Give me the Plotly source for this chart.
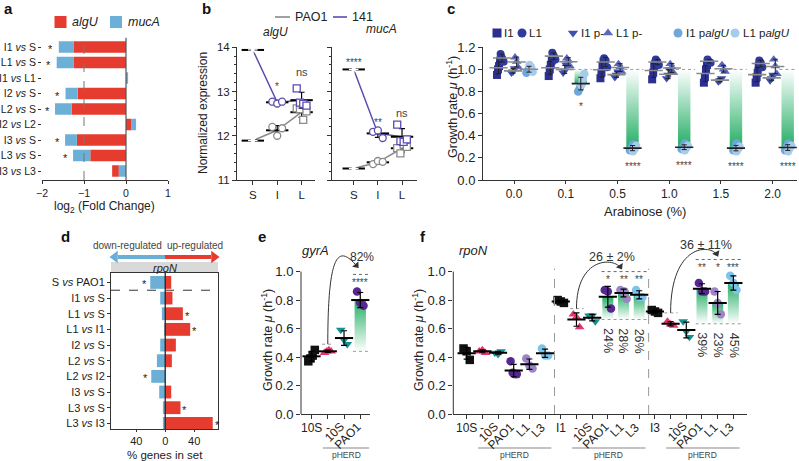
import numpy as np
import plotly.graph_objects as go

# ======================= DATA =======================
# panel a : log2 fold change
a_rows = ["I1 <i>vs</i> S", "L1 <i>vs</i> S", "I1 <i>vs</i> L1", "I2 <i>vs</i> S", "L2 <i>vs</i> S",
          "I2 <i>vs</i> L2", "I3 <i>vs</i> S", "L3 <i>vs</i> S", "I3 <i>vs</i> L3"]
a_algU = [-1.24, -1.24, 0.00, -1.15, -1.29, 0.12, -1.17, -0.85, -0.16]
a_mucA = [-0.36, -0.41, 0.05, -0.29, -0.40, 0.12, -0.28, -0.41, -0.17]
a_inner = ["algU"] * 8 + ["mucA"]          # which gene is stacked next to zero
a_sig = ["*", "*", "", "*", "*", "", "*", "*", ""]

# panel b : normalized expression
b_groups = ["S", "I", "L"]
b_algU_PAO1 = [[11.89], [12.20, 12.00, 12.17], [12.62, 12.60, 12.36, 12.55]]
b_algU_141 = [[13.94], [12.77, 12.73, 12.77], [13.07, 12.75, 12.72, 12.68]]
b_mucA_PAO1 = [[11.26], [11.36, 11.43, 11.41], [11.72, 11.60, 11.80, 11.75]]
b_mucA_141 = [[13.50], [12.09, 12.12, 11.95], [12.25, 11.88, 11.86, 11.92]]
b_sig_algU = ["****", "*", "ns"]
b_sig_mucA = ["****", "**", "ns"]

# panel c : growth rate vs arabinose
c_conc = ["0.0", "0.1", "0.5", "1.0", "1.5", "2.0"]
c_names = ["I1", "L1", "I1 p-", "L1 p-", "I1 p<i>algU</i>", "L1 p<i>algU</i>"]
c_I1 = [[0.95, 1.00, 1.03, 1.08], [0.94, 1.00, 1.04, 1.08], [0.92, 0.97, 1.03, 1.07],
        [0.91, 0.97, 1.03, 1.05], [0.88, 0.93, 1.00, 1.04], [0.88, 0.93, 0.97, 1.03]]
c_L1 = [[1.14, 1.10, 1.07], [1.15, 1.12, 1.09], [1.10, 1.08, 1.02],
        [1.09, 1.07, 1.04], [1.09, 1.07, 1.06], [1.08, 1.06, 1.02]]
c_I1p = [[0.97, 0.98, 1.01], [0.97, 0.99, 1.04], [0.93, 0.95, 0.98],
         [0.92, 0.95, 1.00], [0.89, 0.90, 0.92], [0.90, 0.92, 0.95]]
c_L1p = [[1.11, 1.07, 1.02], [1.10, 1.08, 1.03], [1.05, 1.02, 0.98],
         [1.05, 1.02, 0.97], [1.04, 1.00, 0.98], [1.09, 1.03, 0.96]]
c_I1a = [[0.97, 0.99, 1.01], [0.80, 0.83, 0.87], [0.27, 0.29, 0.32],
         [0.28, 0.30, 0.33], [0.27, 0.29, 0.33], [0.27, 0.30, 0.33]]
c_L1a = [[1.04, 1.02, 0.98], [0.86, 0.91, 0.96], [0.26, 0.28, 0.31],
         [0.27, 0.29, 0.31], [0.26, 0.28, 0.30], [0.26, 0.29, 0.31]]
c_ref = 1.0
c_sig = ["", "*", "****", "****", "****", "****"]

# panel d : % genes in set (rpoN)
d_rows = ["S <i>vs</i> PAO1", "I1 <i>vs</i> S", "L1 <i>vs</i> S", "L1 <i>vs</i> I1", "I2 <i>vs</i> S",
          "L2 <i>vs</i> S", "L2 <i>vs</i> I2", "I3 <i>vs</i> S", "L3 <i>vs</i> S", "L3 <i>vs</i> I3"]
d_down = [20.7, 6.9, 4.6, 1.4, 6.9, 11.5, 19.3, 8.3, 3.2, 3.2]
d_up = [8.3, 10.0, 24.4, 34.5, 14.7, 9.2, 0.0, 8.3, 21.1, 65.7]
d_sig = ["down", "", "up", "up", "", "", "down", "", "up", "up"]

# panel e : gyrA growth rate
e_labels = ["10S", "-", "10S", "PAO1"]
e_vals = [[0.37, 0.39, 0.41, 0.45], [0.43, 0.44, 0.45, 0.44], [0.59, 0.52, 0.49], [0.86, 0.78, 0.76]]
e_dot_minus = 0.49
e_dot_top = 0.98
e_sig = "****"
e_pct = "82%"

# panel f : rpoN growth rate
f_labels = ["10S", "-", "10S", "PAO1", "L1", "L3",
            "I1", "-", "10S", "PAO1", "L1", "L3",
            "I3", "-", "10S", "PAO1", "L1", "L3"]
f_vals = [[0.46, 0.44, 0.38], [0.44, 0.45, 0.43], [0.43, 0.42, 0.44], [0.37, 0.29, 0.28, 0.28],
          [0.39, 0.34, 0.32], [0.46, 0.41, 0.41],
          [0.80, 0.79, 0.78], [0.70, 0.68, 0.61], [0.69, 0.69, 0.65], [0.87, 0.86, 0.74],
          [0.87, 0.86, 0.86, 0.81], [0.87, 0.82, 0.82],
          [0.73, 0.72, 0.71], [0.65, 0.63, 0.62], [0.65, 0.58, 0.54], [0.92, 0.86, 0.86],
          [0.86, 0.78, 0.70], [0.97, 0.92, 0.87]]
f_dot_minus = [0.74, 0.71]
f_dot_top = [1.00, 1.085]
f_sig = [["*", "**", "**"], ["**", "*", "***"]]
f_pct = [["24%", "28%", "26%"], ["39%", "23%", "45%"]]
f_summary = ["26 ± 2%", "36 ± 11%"]

# ======================= STYLE / LAYOUT HELPERS =======================
W, H = 799, 461
FONT = "Liberation Sans, Arial, sans-serif"
TXT = "#222222"
RED = "#e63c2f"
BLUE = "#6cb0d8"
PURPLE_B = "#5a4cb0"
GRAY_B = "#8a8a8a"
GREEN = "rgb(34,174,100)"
C_COLORS = ["#2c2f8e", "#2f3b98", "#3e4fae", "#5a68bd", "#6ea7da", "#a9cbea"]
C_SYMBOLS = ["square", "circle", "triangle-down", "triangle-up", "circle", "circle"]
C_OFF = [-0.30, -0.23, -0.02, 0.05, 0.27, 0.33]
G_COLORS = ["#111111", "#e8336e", "#12918f", "#56288f", "#9d84c6", "#7cc4ea"]
G_SYMBOLS = ["square", "triangle-up", "triangle-down", "circle", "circle", "circle"]


def PX(x):
    return x / W


def PY(y):
    return 1 - y / H


def dom_x(a, b):
    return [a / W, b / W]


def dom_y(top, bottom):
    return [1 - bottom / H, 1 - top / H]


def offsets(n, spread):
    return np.linspace(-spread, spread, n) if n > 1 else np.zeros(1)


def sd(v):
    return float(np.std(v, ddof=1)) if len(v) > 1 else 0.0


fig = go.Figure()
ann = []
shapes = []


def text(t, x, y, size=11, xref="paper", yref="paper", xanchor="center", yanchor="middle",
         angle=0, color=TXT, yshift=0):
    ann.append(dict(text=t, x=x, y=y, xref=xref, yref=yref, xanchor=xanchor, yanchor=yanchor,
                    textangle=angle, showarrow=False, yshift=yshift,
                    font=dict(size=size, color=color, family=FONT)))


def grad_bar(xc, w, y_base, y_val, xa, ya):
    lo, hi = min(y_base, y_val), max(y_base, y_val)
    if y_val < y_base:
        cs = [[0, GREEN], [1, "rgb(255,255,255)"]]
    else:
        cs = [[0, "rgb(255,255,255)"], [1, GREEN]]
    fig.add_trace(go.Scatter(x=[xc - w / 2, xc + w / 2, xc + w / 2, xc - w / 2, xc - w / 2],
                             y=[lo, lo, hi, hi, lo], fill="toself", mode="none",
                             fillgradient=dict(type="vertical", colorscale=cs),
                             xaxis=xa, yaxis=ya, hoverinfo="skip"))


def hline(x0, x1, y, xref, yref, dash="dot", color="#999999", width=1):
    shapes.append(dict(type="line", x0=x0, x1=x1, y0=y, y1=y, xref=xref, yref=yref,
                       line=dict(color=color, width=width, dash=dash)))


# ======================= PANEL a =======================
ya = list(range(len(a_rows)))
base_alg = [m if inn == "mucA" else 0 for m, inn in zip(a_mucA, a_inner)]
base_muc = [0 if inn == "mucA" else g for g, inn in zip(a_algU, a_inner)]
fig.add_trace(go.Bar(x=a_algU, y=ya, base=base_alg, orientation="h", width=0.75,
                     marker=dict(color=RED, line=dict(width=0)), xaxis="x", yaxis="y"))
fig.add_trace(go.Bar(x=a_mucA, y=ya, base=base_muc, orientation="h", width=0.75,
                     marker=dict(color=BLUE, line=dict(width=0)), xaxis="x", yaxis="y"))
shapes.append(dict(type="line", x0=-1, x1=-1, y0=0, y1=1, xref="x", yref="y domain",
                   line=dict(color="#777777", width=1, dash="dash")))
shapes.append(dict(type="line", x0=0, x1=0, y0=0, y1=1, xref="x", yref="y domain",
                   line=dict(color="#555555", width=1.2)))
for i, s in enumerate(a_sig):
    if s:
        tot = min(a_algU[i] + a_mucA[i], a_algU[i], 0)
        text(s, tot - 0.19, i, size=11, xref="x", yref="y", yshift=-2)

# ======================= PANEL b =======================
b_sym = ["asterisk-open", "circle", "square"]


def add_b(data, color, xa, yax):
    means = [float(np.mean(v)) for v in data]
    sds = [sd(v) for v in data]
    fig.add_trace(go.Scatter(x=[0, 1, 2], y=means, mode="lines", line=dict(color=color, width=1.5),
                             xaxis=xa, yaxis=yax, cliponaxis=False))
    fig.add_trace(go.Scatter(x=[0, 1, 2], y=means, mode="markers", xaxis=xa, yaxis=yax, cliponaxis=False,
                             marker=dict(symbol="line-ew", size=16, color="black",
                                         line=dict(width=2, color="black")),
                             error_y=dict(type="data", array=sds, color="black", thickness=1.2, width=3)))
    for gi, vals in enumerate(data):
        xs = gi + offsets(len(vals), 0.2)
        fig.add_trace(go.Scatter(x=xs, y=vals, mode="markers", xaxis=xa, yaxis=yax, cliponaxis=False,
                                 marker=dict(symbol=b_sym[gi], size=7 if gi else 8, color="white",
                                             line=dict(color=color, width=1.3))))


add_b(b_algU_PAO1, GRAY_B, "x2", "y2")
add_b(b_algU_141, PURPLE_B, "x2", "y2")
add_b(b_mucA_PAO1, GRAY_B, "x3", "y3")
add_b(b_mucA_141, PURPLE_B, "x3", "y3")
for gi, (sa, sm) in enumerate(zip(b_sig_algU, b_sig_mucA)):
    ya_pos = [14.14, 13.17, 13.44][gi]
    ym_pos = [13.71, 12.35, 12.51][gi]
    text(sa, gi, ya_pos, size=10 if sa != "ns" else 11, xref="x2", yref="y2", color="#444",
         yshift=-2 if sa != "ns" else 0)
    text(sm, gi, ym_pos, size=10 if sm != "ns" else 11, xref="x3", yref="y3", color="#444",
         yshift=-2 if sm != "ns" else 0)

# ======================= PANEL c =======================
c_series = [c_I1, c_L1, c_I1p, c_L1p, c_I1a, c_L1a]
n_g = len(c_conc)
pal_mean = [float(np.mean(c_I1a[g] + c_L1a[g])) for g in range(n_g)]
pal_sd = [sd(c_I1a[g] + c_L1a[g]) for g in range(n_g)]
pal_off = 0.29
for g in range(1, n_g):
    grad_bar(g + pal_off, 0.24, c_ref, pal_mean[g], "x4", "y4")
    hline(g + 0.13, g + 0.5, c_ref, "x4", "y4")
for si, ser in enumerate(c_series):
    xs, ys = [], []
    for g, vals in enumerate(ser):
        xs += list(g + C_OFF[si] + offsets(len(vals), 0.03))
        ys += vals
    fig.add_trace(go.Scatter(x=xs, y=ys, mode="markers", xaxis="x4", yaxis="y4", cliponaxis=False,
                             marker=dict(symbol=C_SYMBOLS[si], size=8 if si < 2 else 8.5,
                                         color=C_COLORS[si], line=dict(width=0))))
for si in range(4):
    ser = c_series[si]
    fig.add_trace(go.Scatter(x=[g + C_OFF[si] for g in range(n_g)],
                             y=[float(np.mean(v)) for v in ser], mode="markers",
                             xaxis="x4", yaxis="y4",
                             marker=dict(symbol="line-ew", size=13, color="#8a8a8a",
                                         line=dict(width=1.6, color="#8a8a8a")),
                             error_y=dict(type="data", array=[sd(v) for v in ser], color="#222",
                                          thickness=1, width=2.5)))
fig.add_trace(go.Scatter(x=[g + pal_off for g in range(n_g)], y=pal_mean, mode="markers",
                         xaxis="x4", yaxis="y4",
                         marker=dict(symbol="line-ew", size=13,
                                     line=dict(width=1.6, color=["#8a8a8a"] + ["#222"] * (n_g - 1))),
                         error_y=dict(type="data", array=pal_sd, color="#222", thickness=1, width=2.5)))
for g, s in enumerate(c_sig):
    if s:
        lo = min(c_I1a[g] + c_L1a[g])
        text(s, g + pal_off, lo - 0.12, size=10, xref="x4", yref="y4", color="#444", yshift=-2)

# ======================= PANEL d =======================
yd = list(range(len(d_rows)))
fig.add_trace(go.Bar(x=[-v for v in d_down], y=yd, orientation="h", width=0.82,
                     marker=dict(color="#6baed6", line=dict(width=0)), xaxis="x5", yaxis="y5"))
fig.add_trace(go.Bar(x=d_up, y=yd, orientation="h", width=0.82,
                     marker=dict(color=RED, line=dict(width=0)), xaxis="x5", yaxis="y5"))
shapes.append(dict(type="line", x0=0, x1=0, y0=0, y1=1, xref="x5", yref="y5 domain",
                   line=dict(color="#222", width=1.3)))
shapes.append(dict(type="line", x0=0, x1=1, y0=0.5, y1=0.5, xref="x5 domain", yref="y5",
                   line=dict(color="#333", width=1, dash="dash")))
for i, s in enumerate(d_sig):
    if s == "down":
        text("*", -d_down[i] - 8, i, size=11, xref="x5", yref="y5", yshift=-2)
    elif s == "up":
        text("*", d_up[i] + 6, i, size=11, xref="x5", yref="y5", yshift=-2)
shapes.append(dict(type="rect", x0=0, x1=1, xref="x5 domain", y0=PY(273), y1=PY(262), yref="paper",
                   fillcolor="#d9d9d9", line=dict(width=0), layer="below"))
text("<i>rpoN</i>", PX(164.5), PY(267.5), size=11)
text("down-regulated", PX(127), PY(245), size=10, color="#444")
text("up-regulated", PX(195), PY(245), size=10, color="#444")


# ======================= PANELS e / f =======================
def add_growth(labels, vals, xa, yax, pos_of, skip_first_group=False):
    n = len(labels)
    means = [float(np.mean(v)) for v in vals]
    for i in range(n):
        p = pos_of(i)
        if p >= 3:
            first = i - p
            if skip_first_group and first == 0:
                continue
            grad_bar(i, 0.7, means[first + 1], means[i], xa, yax)
    for i in range(n):
        p = pos_of(i)
        xs = i + offsets(len(vals[i]), 0.2)
        fig.add_trace(go.Scatter(x=xs, y=vals[i], mode="markers", xaxis=xa, yaxis=yax, cliponaxis=False,
                                 marker=dict(symbol=G_SYMBOLS[p], size=8.5, color=G_COLORS[p],
                                             line=dict(width=0))))
    fig.add_trace(go.Scatter(x=list(range(n)), y=means, mode="markers", xaxis=xa, yaxis=yax,
                             marker=dict(symbol="line-ew", size=13, line=dict(width=2, color="black")),
                             error_y=dict(type="data", array=[sd(v) for v in vals], color="black",
                                          thickness=1.2, width=3)))
    return means


def curve(x0, y0, x2, yc, x3, y3, xa, yax, sx, sy):
    shapes.append(dict(type="path", path=f"M {x0},{y0} C {x0},{yc} {x2},{yc} {x3},{y3}",
                       xref=xa, yref=yax, line=dict(color="#333", width=1)))
    dx = (x3 - x2) * sx
    dy = -(y3 - yc) * sy           # screen coordinates (down positive)
    ang = float(np.degrees(np.arctan2(dx, -dy)))
    nrm = (dx ** 2 + dy ** 2) ** 0.5
    back = 2.5
    fig.add_trace(go.Scatter(x=[x3 - dx / nrm * back / sx], y=[y3 + dy / nrm * back / sy], mode="markers",
                             xaxis=xa, yaxis=yax, cliponaxis=False,
                             marker=dict(symbol="triangle-up", size=7, angle=ang, color="#333",
                                         line=dict(width=0))))


def tick_labels(labels, xa, pos_of):
    for i, lab in enumerate(labels):
        if pos_of(i) >= 2:
            ann.append(dict(text=lab, x=i, y=PY(417), xref=xa, yref="paper", xanchor="right",
                            yanchor="top", xshift=6, textangle=-45, showarrow=False,
                            font=dict(size=12, color=TXT, family=FONT)))
        else:
            text(lab, i, PY(419), size=12, xref=xa, yanchor="top")


def pherd(x0, x1, xa):
    shapes.append(dict(type="line", x0=x0, x1=x1, y0=PY(448), y1=PY(448), xref=xa, yref="paper",
                       line=dict(color="#888", width=1.2)))
    text("pHERD", (x0 + x1) / 2, PY(454.5), size=8.5, xref=xa, color="#444")


sy_f = (414 - 226) / 1.32
# e
e_pos = lambda i: i
e_means = add_growth(e_labels, e_vals, "x6", "y6", e_pos)
e_base = e_means[1]
hline(0.65, 1.4, e_dot_minus, "x6", "y6")
hline(2.55, 3.5, e_dot_top, "x6", "y6", color="#666")
hline(2.55, 3.5, e_base, "x6", "y6")
text(e_sig, 3, e_dot_top - 0.045, size=10, xref="x6", yref="y6", color="#444", yshift=-2)
text(e_pct, 3.1, e_dot_top + 0.125, size=12, xref="x6", yref="y6", color="#333")
sx_e = (370 - 301) / 4.25
curve(1, e_dot_minus, 1.75, 1.18, 2.86, e_dot_top + 0.05, "x6", "y6", sx_e, sy_f)
tick_labels(e_labels, "x6", e_pos)
pherd(0.7, 3.55, "x6")

# f
f_pos = lambda i: i % 6
f_means = add_growth(f_labels, f_vals, "x7", "y7", f_pos, skip_first_group=True)
sx_f = (746.7 - 453.3) / 18.7
for k in range(2):
    first = 6 * (k + 1)
    base = f_means[first + 1]
    hline(first + 0.6, first + 1.45, f_dot_minus[k], "x7", "y7")
    hline(first + 2.6, first + 5.55, f_dot_top[k], "x7", "y7", color="#666")
    hline(first + 2.6, first + 5.55, base, "x7", "y7")
    for j in range(3):
        text(f_sig[k][j], first + 3 + j, f_dot_top[k] - 0.045, size=10, xref="x7", yref="y7",
             color="#444", yshift=-2)
        text(f_pct[k][j], first + 3 + j, base - 0.15, size=12.5, xref="x7", yref="y7",
             angle=90, color="#333")
    text(f_summary[k], first + 3.25, f_dot_top[k] + 0.1, size=12.5, xref="x7", yref="y7", color="#333")
curve(7, f_dot_minus[0], 9.4, 1.105, 9.87, 1.02, "x7", "y7", sx_f, sy_f)
curve(13, f_dot_minus[1], 15.6, 1.2, 16.0, 1.11, "x7", "y7", sx_f, sy_f)
for xs_ in [5.6, 11.6]:
    shapes.append(dict(type="line", x0=xs_, x1=xs_, y0=0, y1=1.02, xref="x7", yref="y7",
                       line=dict(color="#999", width=1, dash="dash")))
tick_labels(f_labels, "x7", f_pos)
for k in range(3):
    pherd(6 * k + 0.72, 6 * k + 5.4, "x7")

for xa, yax in [("x6", "y6"), ("x7", "y7")]:
    shapes.append(dict(type="line", x0=0, x1=0, y0=0, y1=1.0, xref=xa + " domain", yref=yax,
                       line=dict(color="#333", width=1)))


# ======================= LEGENDS / ARROWS (pixel overlay axis) =======================
def glyph(x, y, symbol, color, size):
    fig.add_trace(go.Scatter(x=[x], y=[y], mode="markers", xaxis="x8", yaxis="y8",
                             marker=dict(symbol=symbol, size=size, color=color, line=dict(width=0))))


def seg(x0, x1, y, color, width=1.6):
    fig.add_trace(go.Scatter(x=[x0, x1], y=[y, y], mode="lines", xaxis="x8", yaxis="y8",
                             line=dict(color=color, width=width)))


glyph(60.5, 22, "square", RED, 12)
text("<i>algU</i>", PX(70), PY(22), size=12.5, xanchor="left")
glyph(116, 22, "square", BLUE, 12)
text("<i>mucA</i>", PX(126), PY(22), size=12.5, xanchor="left")
seg(275, 290, 17, GRAY_B)
text("PAO1", PX(293), PY(17), size=12.5, xanchor="left")
seg(333, 347, 17, PURPLE_B)
text("141", PX(350), PY(17), size=12.5, xanchor="left")
leg_c = [(497, 502), (522, 527), (573, 579), (608, 614), (678, 684), (735, 741)]
for si, (gx, tx) in enumerate(leg_c):
    glyph(gx, 33, C_SYMBOLS[si], C_COLORS[si], 9)
    text(c_names[si], PX(tx), PY(33), size=11.5, xanchor="left")
# d: direction arrows
seg(165, 118, 257, "#6baed6", 4)
glyph(115, 257, "triangle-left", "#6baed6", 11)
seg(165, 211, 257, RED, 4)
glyph(214, 257, "triangle-right", RED, 11)

# ======================= TITLES / LABELS =======================
for lt, lx, ly in [("a", 2, 9), ("b", 200, 9), ("c", 445, 9), ("d", 59, 236), ("e", 256, 236), ("f", 418, 236)]:
    text(f"<b>{lt}</b>", PX(lx), PY(ly), size=15, xanchor="left", color="#111")
text("log<sub>2</sub> (Fold Change)", PX(104), PY(207), size=12)
text("Normalized expression", PX(203), PY(113), size=12, angle=-90)
text("<i>algU</i>", PX(275), PY(32), size=12)
text("<i>mucA</i>", PX(381), PY(29), size=12)
text("Growth rate <i>μ</i> (h<sup>-1</sup>)", PX(452), PY(107), size=12.5, angle=-90)
text("Arabinose (%)", PX(645), PY(211), size=13)
text("% genes in set", PX(165), PY(455), size=11.5)
text("<i>gyrA</i>", PX(315), PY(250), size=13)
text("Growth rate <i>μ</i> (h<sup>-1</sup>)", PX(267), PY(340), size=12.5, angle=-90)
text("<i>rpoN</i>", PX(473), PY(250), size=13)
text("Growth rate <i>μ</i> (h<sup>-1</sup>)", PX(418), PY(340), size=12.5, angle=-90)


# ======================= AXES =======================
def ax_style(**kw):
    d = dict(showgrid=False, zeroline=False, showline=True, linecolor="#333", linewidth=1,
             ticks="outside", ticklen=4, tickcolor="#333", fixedrange=True, automargin=False,
             tickfont=dict(size=11, family=FONT, color=TXT))
    d.update(kw)
    return d


tf = lambda s: dict(size=s, family=FONT, color=TXT)
gr_ticks = [0, 0.2, 0.4, 0.6, 0.8, 1.0]
fig.update_layout(
    template="none",
    xaxis=ax_style(domain=dom_x(42, 168), range=[-2, 1], tickvals=[-2, -1, 0, 1], anchor="y",
                   ticklen=3, tickfont=tf(10.5)),
    yaxis=ax_style(domain=dom_y(37.7, 180), range=[8.58, -0.6], tickvals=ya, ticktext=a_rows,
                   showline=False, ticklen=3, anchor="x", tickfont=tf(10.5)),
    xaxis2=ax_style(domain=dom_x(237, 315), range=[-0.65, 2.55], tickvals=[0, 1, 2], ticktext=b_groups,
                    anchor="y2", tickfont=tf(11.5)),
    yaxis2=ax_style(domain=dom_y(47.3, 180), range=[11, 14], tickvals=[11, 12, 13, 14], anchor="x2",
                    minor=dict(dtick=0.2, ticks="outside", ticklen=2, tickcolor="#333"), tickfont=tf(11.5)),
    xaxis3=ax_style(domain=dom_x(332, 417), range=[-0.9, 2.62], tickvals=[0, 1, 2], ticktext=b_groups,
                    anchor="y3", tickfont=tf(11.5)),
    yaxis3=ax_style(domain=dom_y(47.3, 180), range=[11, 14], tickvals=[11, 12, 13, 14], anchor="x3",
                    showticklabels=False,
                    minor=dict(dtick=0.2, ticks="outside", ticklen=2, tickcolor="#333")),
    xaxis4=ax_style(domain=dom_x(483, 797), range=[-0.6, 5.47], tickvals=list(range(6)), ticktext=c_conc,
                    anchor="y4", ticklen=3, tickfont=tf(12)),
    yaxis4=ax_style(domain=dom_y(47.3, 180), range=[0, 1.2], tickvals=[0, 0.2, 0.4, 0.6, 0.8, 1.0, 1.2],
                    tickformat=".1f", anchor="x4", tickfont=tf(13)),
    xaxis5=ax_style(domain=dom_x(111, 218), range=[-75, 73], tickvals=[-40, 0, 40],
                    ticktext=["40", "0", "40"], mirror=True, anchor="y5", ticklen=2, tickfont=tf(11)),
    yaxis5=ax_style(domain=dom_y(273, 429), range=[9.36, -0.6], tickvals=yd, ticktext=d_rows,
                    mirror=True, ticklen=3, anchor="x5", tickfont=tf(11)),
    xaxis6=ax_style(domain=dom_x(301, 370), range=[-0.65, 3.6], tickvals=list(range(4)),
                    showticklabels=False, anchor="y6"),
    yaxis6=ax_style(domain=dom_y(226, 414), range=[0, 1.32], tickvals=gr_ticks, tickformat=".1f",
                    showline=False, anchor="x6", tickfont=tf(13)),
    xaxis7=ax_style(domain=dom_x(453.3, 746.7), range=[-0.85, 17.85], tickvals=list(range(18)),
                    showticklabels=False, anchor="y7"),
    yaxis7=ax_style(domain=dom_y(226, 414), range=[0, 1.32], tickvals=gr_ticks, tickformat=".1f",
                    showline=False, anchor="x7", tickfont=tf(13)),
    xaxis8=dict(domain=[0, 1], range=[0, W], visible=False, fixedrange=True, anchor="y8", automargin=False),
    yaxis8=dict(domain=[0, 1], range=[H, 0], visible=False, fixedrange=True, anchor="x8", automargin=False),
)

fig.update_traces(hoverinfo="skip")
fig.update_layout(width=W, height=H, autosize=False, margin=dict(l=0, r=0, t=0, b=0, pad=0),
                  paper_bgcolor="white", plot_bgcolor="rgba(0,0,0,0)", showlegend=False,
                  barmode="overlay", font=dict(family=FONT, color=TXT),
                  annotations=ann, shapes=shapes)
fig.write_html("out.html", config={"displayModeBar": False, "staticPlot": True},
               post_script="document.body.style.margin='0px';document.body.style.overflow='hidden';")
